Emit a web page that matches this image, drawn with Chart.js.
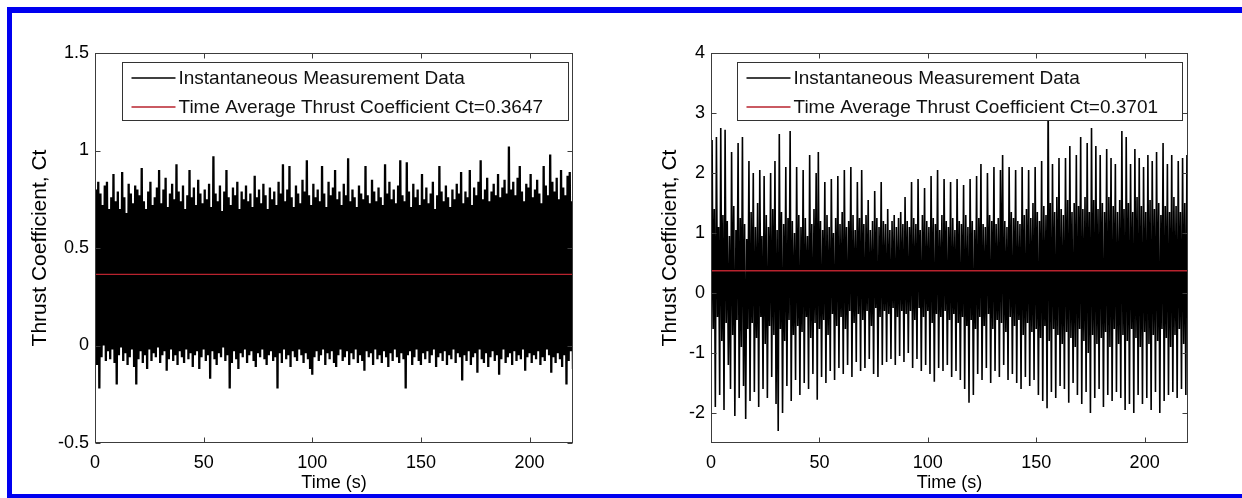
<!DOCTYPE html>
<html><head><meta charset="utf-8">
<script src="https://cdn.jsdelivr.net/npm/chart.js@4.4.1/dist/chart.umd.min.js"></script>
<style>
html,body{margin:0;padding:0;background:#fff;width:1242px;height:498px;overflow:hidden;position:relative}
#frame{position:absolute;left:7px;top:7px;width:1260px;height:481px;border-left:5px solid #0000f0;border-top:6px solid #0000f0;border-bottom:5px solid #0000f0;}
.box{position:absolute;top:0;height:498px}
#c1box{left:0;width:620px}
#c2box{left:620px;width:622px}
</style></head><body>
<div id="frame"></div>
<div class="box" id="c1box"><canvas id="c1"></canvas></div>
<div class="box" id="c2box"><canvas id="c2"></canvas></div>
<script>
const BIN = 1; // seconds per bin
const xTicks = [0, 50, 100, 150, 200];
const leftYTicks = [-0.5, 0, 0.5, 1, 1.5];
const rightYTicks = [-2, -1, 0, 1, 2, 3, 4];
const leftMean = 0.3647;
const rightMean = 0.3701;

const lHi = [
0.80,0.84,0.78,0.72,0.82,0.84,0.70,0.76,0.88,0.74,
0.79,0.70,0.89,0.76,0.68,0.83,0.78,0.73,0.82,0.80,
0.77,0.91,0.74,0.70,0.79,0.84,0.72,0.76,0.81,0.90,
0.73,0.80,0.86,0.71,0.78,0.83,0.75,0.93,0.79,0.74,
0.82,0.70,0.77,0.90,0.76,0.81,0.72,0.85,0.78,0.73,
0.80,0.75,0.83,0.71,0.97,0.78,0.74,0.82,0.69,0.79,
0.90,0.76,0.72,0.81,0.77,0.84,0.70,0.79,0.75,0.82,
0.74,0.78,0.71,0.87,0.76,0.80,0.73,0.83,0.77,0.70,
0.81,0.75,0.79,0.72,0.84,0.78,0.93,0.74,0.80,0.92,
0.76,0.71,0.82,0.78,0.73,0.85,0.79,0.95,0.77,0.72,
0.83,0.76,0.80,0.74,0.92,0.78,0.71,0.84,0.77,0.81,
0.90,0.75,0.79,0.72,0.83,0.77,0.96,0.74,0.80,0.76,
0.71,0.82,0.78,0.75,0.92,0.77,0.73,0.85,0.79,0.74,
0.81,0.76,0.72,0.93,0.78,0.84,0.75,0.80,0.73,0.82,
0.95,0.77,0.74,0.94,0.79,0.71,0.83,0.76,0.80,0.72,
0.88,0.75,0.81,0.73,0.78,0.84,0.70,0.77,0.92,0.79,
0.74,0.82,0.76,0.71,0.80,0.75,0.83,0.78,0.89,0.73,
0.79,0.76,0.90,0.72,0.81,0.77,0.84,0.95,0.75,0.80,
0.86,0.74,0.79,0.83,0.77,0.88,0.76,0.81,0.85,0.78,
1.02,0.80,0.84,0.77,0.86,0.92,0.79,0.74,0.83,0.81,
0.88,0.76,0.80,0.85,0.78,0.73,0.92,0.82,0.77,0.98,
0.84,0.79,0.86,0.75,0.90,0.81,0.77,0.87,0.89,0.74,0.80];

const lLo = [
-0.04,-0.10,-0.22,-0.06,0.00,-0.08,-0.03,-0.07,-0.02,-0.09,
-0.20,-0.05,-0.01,-0.08,-0.04,-0.10,-0.06,-0.02,-0.11,-0.20,
-0.07,-0.03,-0.09,-0.05,-0.12,-0.02,-0.08,-0.04,-0.06,-0.01,
-0.09,-0.05,-0.03,-0.13,-0.07,-0.02,-0.08,-0.05,-0.10,-0.03,
-0.06,-0.09,-0.02,-0.07,-0.04,-0.11,-0.05,-0.03,-0.12,-0.06,
-0.02,-0.08,-0.05,-0.17,-0.03,-0.07,-0.10,-0.04,-0.06,-0.01,
-0.08,-0.05,-0.22,-0.09,-0.03,-0.07,-0.12,-0.04,-0.06,-0.02,
-0.09,-0.05,-0.03,-0.08,-0.11,-0.04,-0.06,-0.02,-0.07,-0.10,
-0.05,-0.03,-0.08,-0.06,-0.22,-0.04,-0.09,-0.02,-0.07,-0.05,
-0.11,-0.03,-0.06,-0.08,-0.02,-0.05,-0.09,-0.04,-0.07,-0.12,
-0.15,-0.06,-0.03,-0.08,-0.05,-0.02,-0.10,-0.04,-0.07,-0.03,
-0.09,-0.11,-0.05,-0.02,-0.08,-0.06,-0.03,-0.10,-0.04,-0.07,
-0.02,-0.09,-0.05,-0.08,-0.13,-0.03,-0.06,-0.04,-0.10,-0.02,
-0.07,-0.05,-0.09,-0.03,-0.06,-0.11,-0.04,-0.08,-0.02,-0.06,
-0.09,-0.04,-0.07,-0.22,-0.05,-0.03,-0.10,-0.06,-0.02,-0.08,
-0.10,-0.04,-0.07,-0.03,-0.09,-0.05,-0.02,-0.11,-0.06,-0.04,
-0.08,-0.03,-0.10,-0.05,-0.07,-0.02,-0.09,-0.04,-0.06,-0.18,
-0.05,-0.08,-0.03,-0.10,-0.06,-0.04,-0.14,-0.02,-0.07,-0.09,
-0.04,-0.11,-0.06,-0.03,-0.08,-0.05,-0.15,-0.07,-0.02,-0.09,
-0.06,-0.04,-0.10,-0.03,-0.08,-0.05,-0.07,-0.02,-0.13,-0.06,
-0.04,-0.09,-0.05,-0.07,-0.03,-0.10,-0.06,-0.08,-0.02,-0.05,
-0.14,-0.06,-0.09,-0.04,-0.07,-0.11,-0.05,-0.20,-0.08,-0.03,-0.12];

const rHi = [
2.55,1.40,2.60,1.10,2.75,1.30,2.72,1.20,0.95,2.35,
1.45,1.05,2.50,1.25,2.60,1.15,0.90,2.20,1.35,2.00,
1.10,1.50,2.05,0.95,1.95,1.30,1.10,2.00,1.40,2.20,
1.05,2.65,1.35,1.15,2.10,1.25,2.70,1.20,1.00,2.10,
1.30,1.10,2.05,1.25,0.95,2.30,1.15,1.40,2.00,2.35,
1.20,1.05,1.85,1.30,1.10,1.90,1.00,1.25,1.95,1.15,
1.35,2.05,1.10,1.20,2.10,1.30,1.05,1.85,1.25,2.05,
1.15,1.30,1.55,1.05,1.20,1.70,1.25,1.10,1.85,1.20,
1.15,1.40,1.05,1.20,1.30,1.10,1.25,1.35,1.15,1.60,
1.20,1.10,1.85,1.25,1.15,1.90,1.05,1.30,1.75,1.20,
1.10,1.95,1.25,1.15,2.05,1.05,1.30,1.90,1.20,1.10,
1.85,1.25,1.05,1.90,1.20,1.15,1.80,1.30,1.10,1.90,
1.20,1.05,1.95,1.25,2.15,1.15,1.10,2.00,1.30,1.20,
2.10,1.15,1.25,2.05,2.30,1.20,1.10,2.10,1.35,1.25,
2.05,1.20,1.15,2.10,1.30,1.40,2.05,1.25,1.50,2.10,
1.35,1.20,2.20,1.45,1.30,3.30,1.50,2.15,1.35,1.60,
2.25,1.40,1.30,2.25,1.55,2.45,1.35,1.50,2.30,1.45,
2.60,1.40,1.60,2.50,1.35,2.75,1.55,2.45,1.40,2.30,
1.50,1.35,2.40,1.60,2.25,1.45,2.15,1.35,1.55,2.70,
1.40,2.60,1.50,2.15,1.35,2.40,1.60,2.25,1.45,2.10,
1.35,2.30,1.55,2.20,1.40,2.35,1.50,1.30,2.50,1.45,
2.15,1.35,2.30,1.60,1.45,2.20,1.35,2.25,1.50,2.30,1.60];

const rLo = [
-1.55,-0.60,-1.90,-0.40,-1.70,-0.80,-1.95,-0.50,-1.20,-1.60,
-0.70,-2.05,-0.45,-1.75,-0.90,-1.55,-2.10,-0.60,-1.80,-0.50,
-1.65,-0.75,-1.90,-0.40,-1.60,-0.85,-1.75,-0.55,-1.40,-0.70,
-1.85,-2.30,-0.60,-2.00,-0.80,-1.55,-0.45,-1.80,-0.70,-1.45,
-0.55,-1.70,-0.65,-1.50,-0.40,-1.60,-0.75,-1.35,-0.50,-1.78,
-0.60,-1.40,-0.45,-1.50,-0.70,-1.30,-0.35,-1.45,-0.55,-1.25,
-0.40,-1.35,-0.60,-1.20,-0.30,-1.40,-0.50,-1.15,-0.35,-1.30,
-0.45,-1.25,-0.30,-1.10,-0.55,-1.35,-0.25,-1.40,-0.40,-1.20,
-0.30,-1.15,-0.35,-1.10,-0.25,-1.20,-0.40,-1.05,-0.30,-1.15,
-0.35,-1.00,-0.30,-1.25,-0.45,-1.10,-0.25,-1.30,-0.40,-1.20,
-0.30,-1.35,-0.50,-1.48,-0.35,-1.25,-0.40,-1.30,-0.30,-1.20,
-0.45,-1.40,-0.35,-1.30,-0.50,-1.45,-0.40,-1.60,-0.55,-1.83,
-0.45,-1.70,-0.60,-1.35,-0.40,-1.45,-0.55,-1.25,-0.35,-1.50,
-0.60,-1.30,-0.45,-1.40,-0.50,-1.20,-0.65,-1.45,-0.40,-1.35,
-0.55,-1.50,-0.45,-1.60,-0.70,-1.40,-0.50,-1.55,-0.65,-1.45,
-0.60,-1.70,-0.75,-1.80,-0.55,-1.92,-0.80,-1.65,-0.60,-1.75,
-0.70,-1.55,-0.85,-1.60,-0.65,-1.83,-0.75,-1.50,-0.90,-1.70,
-0.60,-1.85,-0.80,-1.65,-1.00,-2.00,-0.70,-1.75,-0.85,-1.60,
-0.75,-1.90,-0.65,-1.70,-0.90,-1.80,-0.60,-1.65,-0.85,-1.75,
-0.70,-1.95,-0.80,-1.85,-0.60,-2.00,-0.75,-1.70,-0.90,-1.85,
-0.65,-1.75,-0.85,-1.95,-0.70,-1.65,-0.80,-2.00,-0.60,-1.80,
-0.75,-1.70,-0.90,-1.65,-0.70,-1.75,-0.60,-1.60,-0.85,-1.70,-0.40];

// ---- build the line path (min then max per bin) ----
function envelopePath(lo, hi) {
  const pts = [];
  const n = Math.min(lo.length, hi.length);
  for (let i = 0; i < n; i++) {
    pts.push({x: i * BIN, y: lo[i]});
    pts.push({x: i * BIN + BIN / 2, y: hi[i]});
  }
  return pts;
}

const FONT = "'Liberation Sans', Arial, Helvetica, sans-serif";

const matlabFrame = {
  id: 'matlabFrame',
  afterDatasetsDraw(chart, args, opts) {
    const {ctx, chartArea: a, scales: {x, y}} = chart;
    ctx.save();
    ctx.strokeStyle = '#3c3c3c';
    ctx.lineWidth = 1;
    const L = Math.round(a.left) + 0.5, R = Math.round(a.right) - 0.5;
    const T = Math.round(a.top) + 0.5, B = Math.round(a.bottom) - 0.5;
    ctx.strokeRect(L, T, R - L, B - T);
    ctx.beginPath();
    x.ticks.forEach(t => {
      const px = Math.round(x.getPixelForValue(t.value)) + 0.5;
      ctx.moveTo(px, B); ctx.lineTo(px, B - 5);
      ctx.moveTo(px, T); ctx.lineTo(px, T + 5);
    });
    y.ticks.forEach(t => {
      const py = Math.round(y.getPixelForValue(t.value)) + 0.5;
      ctx.moveTo(L, py); ctx.lineTo(L + 5, py);
      ctx.moveTo(R, py); ctx.lineTo(R - 5, py);
    });
    ctx.stroke();

    // legend box (MATLAB style, inside the axes)
    const lx = Math.round(a.left + opts.dx) + 0.5;
    const rx = Math.round(a.right - opts.dxr) + 0.5;
    const ty = Math.round(a.top + opts.dy) + 0.5;
    const by = ty + opts.h;
    ctx.fillStyle = '#fff';
    ctx.fillRect(lx, ty, rx - lx, by - ty);
    ctx.strokeStyle = '#333';
    ctx.strokeRect(lx, ty, rx - lx, by - ty);
    const items = [chart.data.datasets[0], chart.data.datasets[1]];
    ctx.font = opts.fontSize + 'px ' + FONT;
    ctx.textBaseline = 'middle';
    ctx.textAlign = 'left';
    items.forEach((ds, i) => {
      const cy = Math.round(ty + opts.row0 + i * opts.rowGap);
      ctx.strokeStyle = ds.borderColor;
      ctx.lineWidth = 1.3;
      ctx.beginPath();
      ctx.moveTo(lx + 9, cy); ctx.lineTo(lx + 53, cy);
      ctx.stroke();
      ctx.fillStyle = '#111';
      ctx.fillText(ds.label, lx + 56, cy + 1);
    });
    ctx.restore();
  }
};

function makeChart(id, cfg) {
  const tickFont = {family: FONT, size: 18};
  const xTitleFont = {family: FONT, size: 18};
  const yTitleFont = {family: FONT, size: 21};
  return new Chart(document.getElementById(id), {
    type: 'line',
    data: {
      datasets: [
        {label: 'Instantaneous Measurement Data', data: envelopePath(cfg.lo, cfg.hi),
         borderColor: '#000', borderWidth: cfg.lw, pointRadius: 0, tension: 0, order: 2},
        {label: 'Time Average Thrust Coefficient Ct=' + cfg.mean.toFixed(4),
         data: [{x: 0, y: cfg.mean}, {x: 220, y: cfg.mean}],
         borderColor: '#b8232e', borderWidth: 1.4, pointRadius: 0, order: 1}
      ]
    },
    options: {
      responsive: true, maintainAspectRatio: false, animation: false,
      events: [],
      layout: {padding: {left: cfg.padL, right: cfg.padR, top: 53, bottom: 4}},
      plugins: {
        legend: {display: false}, tooltip: {enabled: false},
        matlabFrame: {dx: cfg.legDx, dxr: cfg.legDxr, dy: 9, h: 58, row0: 15, rowGap: 29, fontSize: 19}
      },
      scales: {
        x: {
          type: 'linear', min: 0, max: 220,
          grid: {display: false, drawTicks: false}, border: {display: false},
          afterBuildTicks: s => { s.ticks = xTicks.map(v => ({value: v})); },
          afterFit: s => { s.height = 51; },
          ticks: {padding: 9, font: tickFont, color: '#000', maxRotation: 0, callback: v => String(v)},
          title: {display: true, text: 'Time (s)', font: xTitleFont, color: '#000', padding: 0}
        },
        y: {
          type: 'linear', min: cfg.ymin, max: cfg.ymax,
          grid: {display: false, drawTicks: false}, border: {display: false},
          afterBuildTicks: s => { s.ticks = cfg.yTicks.map(v => ({value: v})); },
          afterFit: s => { s.width = cfg.yw; },
          ticks: {padding: 6, font: tickFont, color: '#000', callback: v => String(v)},
          title: {display: true, text: 'Thrust Coefficient, Ct', font: yTitleFont, color: '#000', padding: 0}
        }
      }
    },
    plugins: [matlabFrame]
  });
}

makeChart('c1', {lo: lLo, hi: lHi, mean: leftMean, ymin: -0.5, ymax: 1.5, yTicks: leftYTicks,
  padL: 28, yw: 67, padR: 47, legDx: 27, legDxr: 5, lw: 2.3});
makeChart('c2', {lo: rLo, hi: rHi, mean: rightMean, ymin: -2.5, ymax: 4, yTicks: rightYTicks,
  padL: 38, yw: 53, padR: 54, legDx: 26, legDxr: 6, lw: 1.6});
</script>
</body></html>
